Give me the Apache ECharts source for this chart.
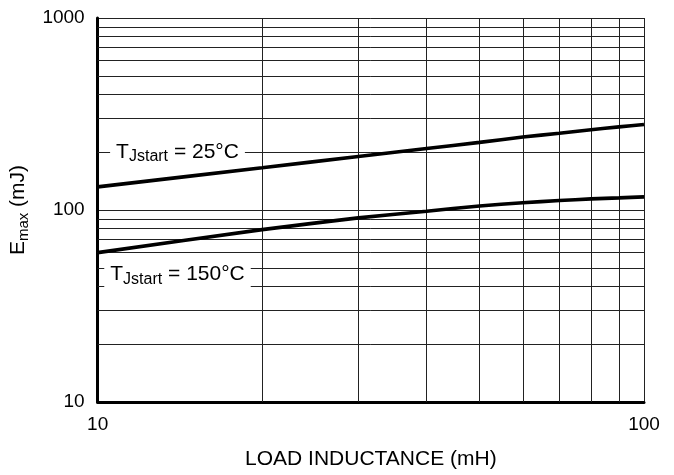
<!DOCTYPE html>
<html>
<head>
<meta charset="utf-8">
<script src="https://cdn.jsdelivr.net/npm/echarts@6/dist/echarts.min.js"></script>
<style>html,body{margin:0;padding:0;background:#fff;}#c{width:674px;height:475px;}</style>
</head>
<body>
<div id="c"></div>
<script>
// Data
var inductance = [10, 20, 30, 40, 50, 60, 70, 80, 90, 100];          // mH
var emax25 = [132, 166, 190, 209, 225, 240, 251, 262, 271, 279];     // mJ, TJstart = 25°C
var emax150 = [60, 79, 91, 98.6, 105.0, 109, 112, 114.3, 115.7, 117]; // mJ, TJstart = 150°C
var xMinorGrid = [20, 30, 40, 50, 60, 70, 80, 90];
var yMinorGrid = [20, 30, 40, 50, 60, 70, 80, 90, 200, 300, 400, 500, 600, 700, 800, 900];
var xTickLabels = ['10', '100'];
var yTickLabels = ['10', '100', '1000'];

var FONT = 'Liberation Sans, Arial, Helvetica, sans-serif';

function pairs(xs, ys) { return xs.map(function (x, i) { return [x, ys[i]]; }); }

var gridLines = [];
xMinorGrid.forEach(function (v) { gridLines.push({ xAxis: v }); });
yMinorGrid.forEach(function (v) { gridLines.push({ yAxis: v }); });

var labelRich = {
  t: { fontSize: 21, fontFamily: FONT, color: '#000', lineHeight: 26, verticalAlign: 'middle' },
  s: { fontSize: 16, fontFamily: FONT, color: '#000', lineHeight: 12, verticalAlign: 'bottom' }
};

var chart = echarts.init(document.getElementById('c'), null, { renderer: 'canvas' });
chart.setOption({
  animation: false,
  backgroundColor: '#fff',
  grid: { left: 97, right: 30, top: 18, bottom: 72, containLabel: false },
  xAxis: {
    type: 'log', logBase: 10, min: 10, max: 100,
    name: 'LOAD INDUCTANCE (mH)', nameLocation: 'middle', nameGap: 47,
    nameTextStyle: { fontSize: 21, fontFamily: FONT, color: '#000' },
    axisLine: { show: true, lineStyle: { color: '#000', width: 3 } },
    axisTick: { show: false },
    axisLabel: {
      fontSize: 19, fontFamily: FONT, color: '#000', margin: 13,
      formatter: function (v) { var s = String(Math.round(v)); return xTickLabels.indexOf(s) >= 0 ? s : ''; }
    },
    splitLine: { show: true, lineStyle: { color: '#222', width: 1 } }
  },
  yAxis: {
    type: 'log', logBase: 10, min: 10, max: 1000,
    name: '{e|E}{s|max}{e| (mJ)}', nameLocation: 'middle', nameGap: 58,
    nameTextStyle: {
      rich: {
        e: { fontSize: 21, fontFamily: FONT, color: '#000', lineHeight: 26, verticalAlign: 'middle' },
        s: { fontSize: 15, fontFamily: FONT, color: '#000', lineHeight: 12, verticalAlign: 'bottom' }
      }
    },
    axisLine: { show: true, lineStyle: { color: '#000', width: 3 } },
    axisTick: { show: false },
    axisLabel: {
      fontSize: 19, fontFamily: FONT, color: '#000', margin: 13,
      formatter: function (v) { var s = String(Math.round(v)); return yTickLabels.indexOf(s) >= 0 ? s : ''; }
    },
    splitLine: { show: true, lineStyle: { color: '#222', width: 1 } }
  },
  series: [
    {
      type: 'line', data: pairs(inductance, emax25), smooth: 0.2,
      symbol: 'none', lineStyle: { color: '#000', width: 3.6 }, z: 5,
      markLine: {
        silent: true, symbol: ['none', 'none'], label: { show: false },
        lineStyle: { color: '#222', width: 1, type: 'solid' },
        data: gridLines, animation: false, z: 1
      },
      markPoint: {
        silent: true, symbol: 'circle', symbolSize: 1, itemStyle: { color: 'rgba(0,0,0,0)' },
        label: {
          show: true, position: 'inside', backgroundColor: '#fff', padding: [3, 6, 3, 6],
          formatter: '{t|T}{s|Jstart}{t| = 25°C}', rich: labelRich
        },
        data: [{ coord: [14.0, 201] }]
      }
    },
    {
      type: 'line', data: pairs(inductance, emax150), smooth: 0.2,
      symbol: 'none', lineStyle: { color: '#000', width: 3.6 }, z: 5,
      markPoint: {
        silent: true, symbol: 'circle', symbolSize: 1, itemStyle: { color: 'rgba(0,0,0,0)' },
        label: {
          show: true, position: 'inside', backgroundColor: '#fff', padding: [6, 6, 8, 6],
          formatter: '{t|T}{s|Jstart}{t| = 150°C}', rich: labelRich
        },
        data: [{ coord: [14.0, 45.5] }]
      }
    }
  ]
});
</script>
</body>
</html>
